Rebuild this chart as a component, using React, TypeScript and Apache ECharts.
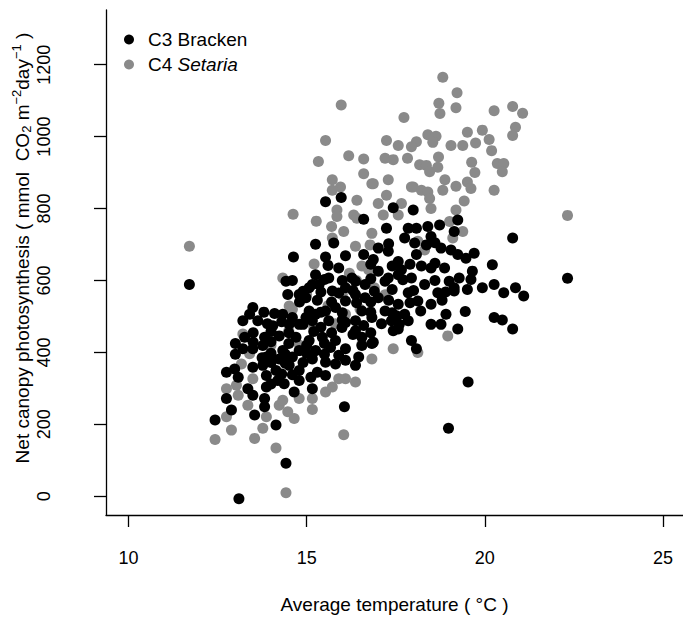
import React, { useEffect, useRef } from 'react';
import * as echarts from 'echarts';

// [average temperature (°C), net canopy photosynthesis (mmol CO2 m-2 day-1)]
const c3Bracken: [number, number][] = [
  [15.53, 819], [15.97, 831], [16.60, 770], [17.43, 802], [17.99, 796], [17.24, 745], [15.25, 701], [14.63, 665],
  [15.76, 704], [15.53, 665], [16.09, 669], [16.60, 672], [16.87, 658], [17.01, 690], [17.29, 681], [17.57, 653],
  [17.75, 718], [17.85, 745], [18.08, 745], [18.40, 750], [18.73, 754], [19.14, 736], [18.49, 722], [18.77, 690],
  [19.05, 685], [18.03, 704], [18.08, 672], [18.49, 635], [18.87, 635], [15.90, 635], [15.25, 616], [14.42, 598],
  [14.79, 561], [15.07, 580], [15.35, 589], [15.62, 607], [15.72, 571], [16.09, 580], [16.37, 598], [16.64, 589],
  [17.01, 626], [17.29, 607], [17.57, 616], [17.94, 607], [18.31, 589], [17.85, 566], [18.12, 543], [18.49, 534],
  [18.68, 566], [19.14, 571], [18.91, 506], [18.49, 478], [18.77, 478], [17.57, 534], [17.20, 515], [17.75, 506],
  [17.85, 488], [17.01, 552], [16.64, 552], [16.37, 561], [16.09, 543], [15.81, 525], [15.53, 515], [15.25, 506],
  [14.98, 497], [14.33, 506], [13.49, 525], [13.21, 488], [13.63, 488], [14.05, 474], [14.51, 478], [16.55, 515],
  [16.83, 497], [16.37, 488], [14.79, 478], [15.16, 488], [15.62, 488], [16.09, 483], [16.37, 460], [13.26, 442],
  [13.82, 442], [14.23, 446], [14.70, 442], [15.07, 433], [15.44, 442], [15.81, 433], [13.21, 410], [13.49, 410],
  [13.77, 419], [14.33, 405], [14.79, 405], [15.25, 405], [15.67, 414], [16.09, 410], [16.55, 419], [16.83, 425],
  [13.87, 387], [14.23, 382], [14.60, 387], [15.16, 382], [15.53, 373], [15.81, 368], [16.09, 378], [16.46, 387],
  [16.37, 364], [12.75, 345], [12.98, 354], [13.08, 331], [13.49, 359], [13.77, 364], [14.14, 350], [14.51, 364],
  [14.79, 350], [13.87, 336], [13.87, 304], [14.19, 322], [14.37, 313], [14.79, 322], [15.12, 331], [15.53, 336],
  [15.16, 299], [13.35, 299], [13.49, 281], [14.65, 290], [12.75, 272], [13.82, 272], [13.82, 249], [12.89, 240],
  [13.54, 226], [12.43, 212], [14.14, 198], [16.06, 249], [14.42, 92], [17.43, 460], [17.57, 465], [17.94, 433],
  [18.08, 410], [19.24, 465], [17.38, 488], [18.98, 189], [19.24, 768], [18.36, 699], [19.24, 672], [19.47, 662],
  [19.70, 676], [20.78, 718], [20.21, 644], [19.65, 626], [19.28, 607], [19.61, 603], [18.22, 640], [17.66, 630],
  [19.14, 580], [19.51, 575], [19.93, 580], [20.26, 589], [20.53, 566], [20.86, 580], [21.09, 557], [17.52, 502],
  [19.45, 514], [20.26, 497], [20.49, 490], [20.78, 465], [16.87, 428], [14.47, 561], [14.98, 552], [15.16, 589],
  [16.27, 607], [13.40, 506], [14.60, 497], [15.07, 515], [15.99, 469], [16.55, 442], [13.10, -7], [19.53, 318],
  [11.71, 589], [22.32, 606],
  [14.60, 600], [15.50, 603], [16.00, 600], [16.80, 605], [17.20, 598], [17.70, 602], [18.60, 600], [19.00, 598],
  [14.90, 570], [15.40, 568], [15.90, 565], [16.30, 572], [16.90, 570], [17.40, 575], [18.00, 572], [18.90, 568],
  [14.80, 540], [15.30, 545], [15.70, 540], [16.40, 538], [16.80, 540], [17.30, 545], [17.90, 538], [18.80, 545],
  [13.80, 512], [14.10, 508], [15.40, 512], [16.00, 510], [16.80, 512], [17.40, 510], [18.20, 515],
  [13.90, 480], [14.30, 485], [14.90, 478], [15.40, 470], [16.00, 490], [16.60, 475], [17.10, 480], [17.60, 478],
  [13.50, 455], [14.00, 458], [14.50, 455], [15.20, 458], [15.70, 455], [16.30, 450], [16.80, 455],
  [13.00, 425], [13.50, 428], [14.00, 430], [14.50, 425], [15.00, 420], [15.50, 425],
  [13.00, 395], [13.75, 385], [14.00, 398], [14.40, 395], [15.00, 398], [15.50, 395], [15.90, 392],
  [14.00, 372], [14.40, 370], [14.90, 372], [14.30, 340], [14.60, 338], [15.30, 345], [14.00, 312],
  [15.60, 642], [16.80, 645], [17.40, 640], [17.90, 645], [18.60, 648], [17.30, 702], [18.60, 705],
];

const c4Setaria: [number, number][] = [
  [18.82, 1165], [19.22, 1122], [18.71, 1093], [18.74, 1064], [19.19, 1080], [17.73, 1053], [20.26, 1072], [20.78, 1084],
  [21.06, 1065], [20.86, 1026], [20.78, 1003], [19.93, 1018], [19.51, 1012], [20.12, 992], [18.40, 1005], [18.63, 1001],
  [18.08, 986], [17.24, 989], [17.57, 975], [17.94, 972], [18.54, 984], [19.05, 975], [19.38, 975], [19.74, 982],
  [20.19, 961], [18.70, 943], [17.20, 940], [17.43, 936], [17.83, 940], [19.63, 929], [20.35, 925], [20.53, 925],
  [20.49, 902], [18.17, 922], [18.36, 920], [18.45, 902], [18.68, 915], [19.72, 900], [16.87, 869], [17.29, 880],
  [18.88, 880], [18.82, 851], [17.99, 860], [18.22, 851], [18.40, 846], [19.19, 862], [19.51, 874], [19.61, 856],
  [20.26, 851], [19.42, 821], [17.24, 837], [17.01, 814], [17.66, 814], [18.45, 828], [18.49, 800], [19.19, 796],
  [17.15, 782], [22.32, 781], [15.97, 1088], [15.53, 989], [16.18, 947], [16.60, 938], [15.33, 931], [16.60, 897],
  [15.72, 880], [15.95, 860], [15.72, 851], [16.41, 823], [15.85, 796], [14.62, 784], [15.27, 765], [15.70, 750],
  [16.04, 736], [15.72, 718], [16.32, 782], [16.83, 869], [17.57, 782], [17.94, 860], [16.83, 731], [16.78, 699],
  [16.37, 695], [15.21, 646], [14.33, 607], [14.51, 529], [16.55, 640], [16.74, 630], [18.31, 685], [18.12, 709],
  [19.01, 764], [16.09, 506], [13.21, 451], [13.17, 368], [13.49, 327], [12.75, 299], [13.03, 309], [13.08, 281],
  [13.35, 253], [12.75, 221], [12.43, 158], [12.89, 184], [13.54, 161], [13.77, 189], [13.87, 221], [14.14, 134],
  [14.23, 253], [14.47, 235], [14.65, 216], [14.33, 267], [14.79, 272], [15.16, 272], [15.16, 241], [15.53, 290],
  [15.72, 304], [15.90, 327], [16.09, 327], [16.37, 318], [16.04, 171], [16.83, 382], [17.43, 410], [18.96, 446],
  [18.12, 400], [16.55, 423], [19.10, 718], [19.38, 736], [15.85, 778], [16.41, 773], [13.40, 396], [11.71, 695],
  [14.42, 10], [14.80, 420], [15.20, 470], [15.60, 530], [16.00, 560], [16.40, 600], [15.00, 560], [14.50, 460],
  [16.50, 520], [15.40, 600], [14.00, 420], [16.20, 620], [15.80, 480], [14.60, 520], [16.90, 580], [17.20, 560],
];

const seriesNames = ['C3 Bracken', 'C4 Setaria'];
const xTicks = [10, 15, 20, 25];
const yTicks = [0, 200, 400, 600, 800, 1000, 1200];
const xTitle = 'Average temperature ( °C )';

const FONT = "'Liberation Sans', Arial, Helvetica, sans-serif";
const GRAY = '#8a8a8a';

export default function App() {
  const ref = useRef<HTMLDivElement>(null);
  useEffect(() => {
    const chart = echarts.init(ref.current!, null, { renderer: 'svg' });
    const axisLine = { show: true, onZero: false, lineStyle: { color: '#000', width: 1.3 } };
    chart.setOption({
      animation: false,
      backgroundColor: '#fff',
      textStyle: { fontFamily: FONT },
      grid: { left: 106, top: 10, width: 582, height: 509, containLabel: false },
      xAxis: {
        type: 'value',
        min: 9.37,
        max: 25.56,
        splitLine: { show: false },
        axisLine,
        axisTick: { show: true, length: 12, customValues: xTicks, lineStyle: { color: '#000', width: 1.3 } },
        axisLabel: { customValues: xTicks, margin: 34, fontSize: 18, color: '#000', fontFamily: FONT },
        name: xTitle,
        nameLocation: 'middle',
        nameGap: 80,
        nameTextStyle: { fontSize: 19, color: '#000', fontFamily: FONT },
      },
      yAxis: {
        type: 'value',
        min: -52,
        max: 1352,
        splitLine: { show: false },
        axisLine,
        axisTick: { show: true, length: 12, customValues: yTicks, lineStyle: { color: '#000', width: 1.3 } },
        axisLabel: {
          customValues: yTicks,
          rotate: 90,
          margin: 53,
          fontSize: 18,
          color: '#000',
          fontFamily: FONT,
          formatter: (v: number) => String(v),
        },
      },
      legend: {
        data: seriesNames,
        orient: 'vertical',
        left: 119,
        top: 25,
        icon: 'circle',
        itemWidth: 10,
        itemHeight: 10,
        itemGap: 6,
        formatter: (name: string) =>
          name === 'C4 Setaria' ? '{n|C4 }{i|Setaria}' : '{n|' + name + '}',
        textStyle: {
          rich: {
            n: { fontSize: 19, lineHeight: 20, color: '#000', fontFamily: FONT, padding: [0, 0, 0, 9] },
            i: { fontSize: 19, lineHeight: 20, color: '#000', fontFamily: FONT, fontStyle: 'italic' },
          },
        },
      },
      graphic: [
        {
          type: 'text',
          x: 22,
          y: 248,
          rotation: Math.PI / 2,
          style: {
            text: '{a|Net canopy photosynthesis ( mmol  CO}{sb|2}{a| m}{sp|−2}{a|day}{sp|−1}{a| )}',
            align: 'center',
            verticalAlign: 'middle',
            textAlign: 'center',
            textVerticalAlign: 'middle',
            fill: '#000',
            rich: {
              a: { fontSize: 19, fontFamily: FONT, fill: '#000', color: '#000' },
              sb: { fontSize: 13, fontFamily: FONT, fill: '#000', color: '#000', padding: [9, 0, 0, 0] },
              sp: { fontSize: 13, fontFamily: FONT, fill: '#000', color: '#000', padding: [0, 0, 12, 0] },
            },
          },
        },
      ],
      series: [
        {
          name: seriesNames[1],
          type: 'scatter',
          data: c4Setaria,
          symbol: 'circle',
          symbolSize: 11,
          itemStyle: { color: GRAY, opacity: 1 },
          emphasis: { disabled: true },
          z: 2,
        },
        {
          name: seriesNames[0],
          type: 'scatter',
          data: c3Bracken,
          symbol: 'circle',
          symbolSize: 11,
          itemStyle: { color: '#000', opacity: 1 },
          emphasis: { disabled: true },
          z: 3,
        },
      ],
    });
    return () => chart.dispose();
  }, []);
  return (
    <div
      ref={ref}
      style={{ position: 'fixed', left: 0, top: 0, width: 683, height: 619, background: '#fff' }}
    />
  );
}
